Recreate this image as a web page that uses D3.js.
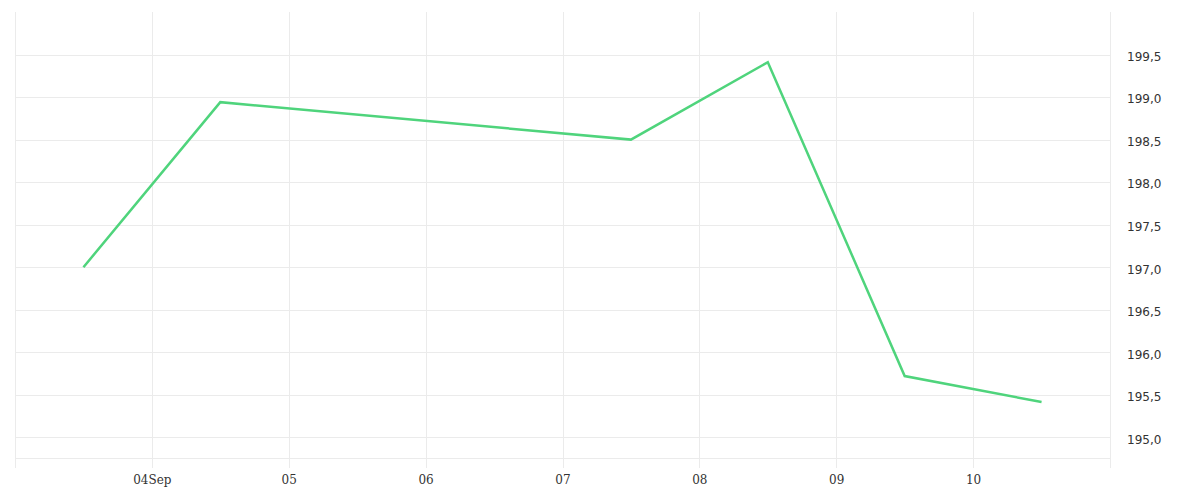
<!DOCTYPE html>
<html>
<head>
<meta charset="utf-8">
<script src="https://d3js.org/d3.v7.min.js"></script>
<style>
  body { margin: 0; background: #fff; }
  .grid line { stroke: #ebebeb; stroke-width: 1; shape-rendering: crispEdges; }
  .xAxis text { font-family: "DejaVu Serif", serif; font-size: 12px; fill: #333; }
  .yAxis text { font-family: "DejaVu Sans", sans-serif; font-size: 12px; fill: #333; }
</style>
</head>
<body>
<svg class="chart"></svg>
<script>
// data
var dates = ["2018-09-03T12:00", "2018-09-04T12:00", "2018-09-07T12:00",
             "2018-09-08T12:00", "2018-09-09T12:00", "2018-09-10T12:00"];
var prices = [197.0, 198.94, 198.5, 199.41, 195.72, 195.415];
var yTicks = [195.0, 195.5, 196.0, 196.5, 197.0, 197.5, 198.0, 198.5, 199.0, 199.5];
var xTickLabels = ["04Sep", "05", "06", "07", "08", "09", "10"];

var parse = d3.timeParse("%Y-%m-%dT%H:%M");
var data = dates.map(function(d, i){ return {date: parse(d), value: prices[i]}; });

var width = 1200, height = 500;
var plot = {left: 15, right: 1110, top: 12, bottom: 458};

var svg = d3.select(".chart")
  .attr("width", width)
  .attr("height", height);

var xChart = d3.scaleTime()
  .domain([new Date(2018, 8, 3), new Date(2018, 8, 11)])
  .range([plot.left, plot.right]);

var yChart = d3.scaleLinear()
  .domain([194.757, 200.0])
  .range([plot.bottom, plot.top]);

var days = d3.timeDay.range(new Date(2018, 8, 3), new Date(2018, 8, 12));

//vertical grid, running down past the plot like ticks
svg.append("g")
  .attr("class", "grid")
  .selectAll("line")
  .data(days)
  .enter().append("line")
  .attr("x1", function(d){ return Math.round(xChart(d)) + 0.5; })
  .attr("x2", function(d){ return Math.round(xChart(d)) + 0.5; })
  .attr("y1", plot.top)
  .attr("y2", 468);

//horizontal grid + bottom line
svg.append("g")
  .attr("class", "grid")
  .selectAll("line")
  .data(yTicks.concat([yChart.domain()[0]]))
  .enter().append("line")
  .attr("x1", plot.left)
  .attr("x2", plot.right)
  .attr("y1", function(d){ return Math.round(yChart(d)) + 0.5; })
  .attr("y2", function(d){ return Math.round(yChart(d)) + 0.5; });

//bottom axis labels
var labelDays = days.slice(1, 8);
var xAxis = d3.axisBottom(xChart)
  .tickValues(labelDays)
  .tickSize(0)
  .tickPadding(0)
  .tickFormat(function(d, i){ return xTickLabels[i]; });

svg.append("g")
  .attr("class", "xAxis")
  .attr("transform", "translate(0,475)")
  .call(xAxis)
  .call(function(g){ g.select(".domain").remove(); });

//right axis labels
var yAxis = d3.axisRight(yChart)
  .tickValues(yTicks)
  .tickSize(0)
  .tickPadding(0)
  .tickFormat(function(d){ return d3.format(".1f")(d).replace(".", ","); });

svg.append("g")
  .attr("class", "yAxis")
  .attr("transform", "translate(1127,2)")
  .call(yAxis)
  .call(function(g){ g.select(".domain").remove(); });

//the line
var line = d3.line()
  .x(function(d){ return xChart(d.date); })
  .y(function(d){ return yChart(d.value); });

svg.append("path")
  .datum(data)
  .attr("fill", "none")
  .attr("stroke", "#4fd47c")
  .attr("stroke-width", 2.5)
  .attr("stroke-linejoin", "miter")
  .attr("d", line);
</script>
</body>
</html>
